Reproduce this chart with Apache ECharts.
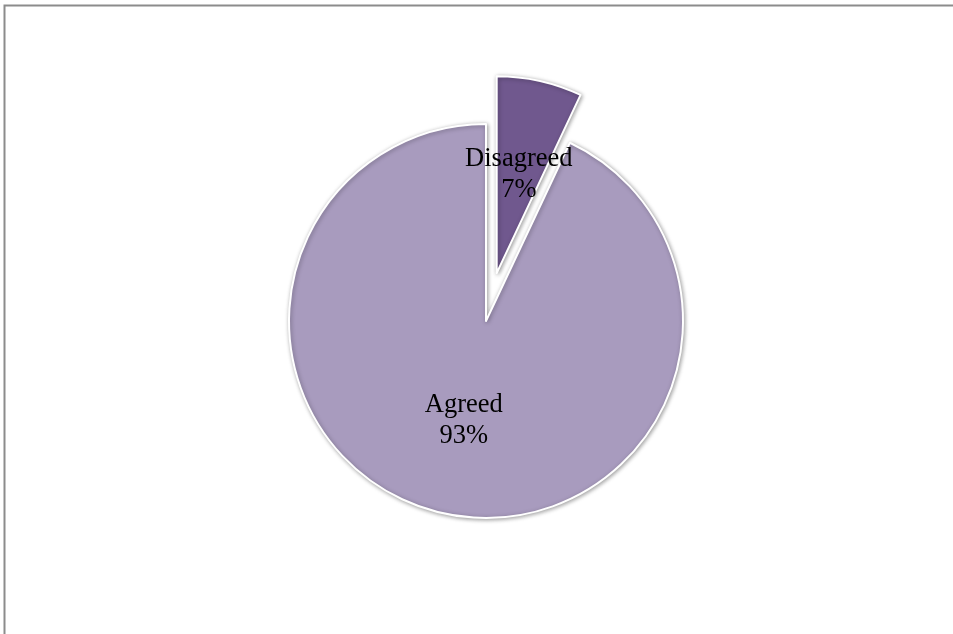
<!DOCTYPE html>
<html>
<head>
<meta charset="utf-8">
<script src="https://cdn.jsdelivr.net/npm/echarts@6/dist/echarts.min.js"></script>
<style>
  html, body { margin: 0; padding: 0; background: #ffffff; }
  #chart { width: 953px; height: 634px; }
</style>
</head>
<body>
<div id="chart"></div>
<script>
// Survey response shares (percent)
const categories = ['Disagreed', 'Agreed'];
const shares = [7, 93];
const sliceColors = ['#70588E', '#A89BBE'];

const chart = echarts.init(document.getElementById('chart'), null, { renderer: 'canvas' });

const pieData = categories.map((name, i) => ({
  name: name,
  value: shares[i],
  selected: i === 0,
  itemStyle: { color: sliceColors[i] }
}));

chart.setOption({
  backgroundColor: '#ffffff',
  animation: false,
  graphic: [{
    type: 'polyline',
    shape: { points: [[4.5, 640], [4.5, 5.5], [960, 5.5]] },
    style: { stroke: '#8c8c8c', lineWidth: 2, fill: null },
    silent: true
  }],
  series: [{
    type: 'pie',
    center: [486, 321],
    radius: [0, 197],
    startAngle: 90,
    clockwise: true,
    selectedMode: 'single',
    selectedOffset: 49,
    avoidLabelOverlap: false,
    itemStyle: {
      borderColor: '#ffffff',
      borderWidth: 2,
      shadowBlur: 4,
      shadowColor: 'rgba(0,0,0,0.35)',
      shadowOffsetX: 1,
      shadowOffsetY: 1
    },
    label: {
      show: true,
      position: 'inside',
      formatter: '{b}\n{c}%',
      color: '#000000',
      fontFamily: '"Liberation Serif", "DejaVu Serif", serif',
      fontSize: 26.5,
      lineHeight: 31,
      align: 'center'
    },
    labelLine: { show: false },
    emphasis: { disabled: true },
    data: pieData
  }]
});
</script>
</body>
</html>
